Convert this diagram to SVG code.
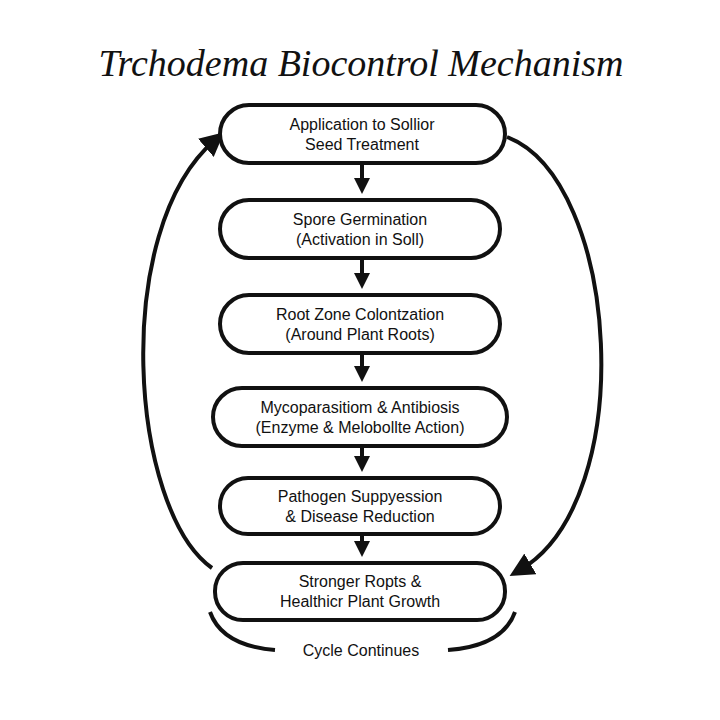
<svg xmlns="http://www.w3.org/2000/svg" width="720" height="720" viewBox="0 0 720 720">
<defs>
<style>
.n{fill:#fff;stroke:#111;stroke-width:4}
.t{font-family:"Liberation Sans",Arial,sans-serif;font-size:16px;fill:#111;text-anchor:middle}
.c{fill:none;stroke:#111;stroke-width:4}
</style>
<marker id="ah" markerWidth="6" markerHeight="6" refX="3" refY="3" orient="auto" markerUnits="strokeWidth"><path d="M0,0 L6,3 L0,6 z" fill="#111"/></marker>
<marker id="dn" markerWidth="4" markerHeight="4" refX="2" refY="2" orient="auto" markerUnits="strokeWidth"><path d="M0,0 L4,2 L0,4 z" fill="#111"/></marker>
</defs>
<rect width="720" height="720" fill="#fff"/>
<text x="361" y="76" font-family="Liberation Serif,serif" font-style="italic" font-size="38" text-anchor="middle" fill="#111">Trchodema Biocontrol Mechanism</text>
<g id="connectors">
<path class="c" d="M362,163 V186" marker-end="url(#dn)" stroke-width="6"/>
<path class="c" d="M362,258 V281" marker-end="url(#dn)" stroke-width="6"/>
<path class="c" d="M362,353 V374" marker-end="url(#dn)" stroke-width="6"/>
<path class="c" d="M362,446 V464" marker-end="url(#dn)" stroke-width="6"/>
<path class="c" d="M362,534 V549" marker-end="url(#dn)" stroke-width="6"/>
<path class="c" d="M212,568 C130,510 110,230 215,140" marker-end="url(#ah)"/>
<path class="c" d="M507,137 C620,180 640,500 520,570" marker-end="url(#ah)"/>
<path class="c" d="M210,612 C220,640 250,648 275,650"/>
<path class="c" d="M515,612 C505,640 475,648 448,650"/>
</g>
<g id="n1"><rect class="n" x="220" y="105" width="285" height="58" rx="29"/><text class="t" x="362" y="130">Application to Sollior</text><text class="t" x="362" y="150">Seed Treatment</text></g>
<g id="n2"><rect class="n" x="220" y="200" width="280" height="58" rx="29"/><text class="t" x="360" y="225">Spore Germination</text><text class="t" x="360" y="245">(Activation in Soll)</text></g>
<g id="n3"><rect class="n" x="220" y="295" width="280" height="58" rx="29"/><text class="t" x="360" y="320">Root Zone Colontzation</text><text class="t" x="360" y="340">(Around Plant Roots)</text></g>
<g id="n4"><rect class="n" x="213" y="388" width="294" height="58" rx="29"/><text class="t" x="360" y="413">Mycoparasitiom &amp; Antibiosis</text><text class="t" x="360" y="433">(Enzyme &amp; Melobollte Action)</text></g>
<g id="n5"><rect class="n" x="220" y="478" width="280" height="56" rx="28"/><text class="t" x="360" y="502">Pathogen Suppyession</text><text class="t" x="360" y="522">&amp; Disease Reduction</text></g>
<g id="n6"><rect class="n" x="215" y="563" width="290" height="57" rx="28"/><text class="t" x="360" y="587">Stronger Ropts &amp;</text><text class="t" x="360" y="607">Healthicr Plant Growth</text></g>
<text class="t" x="361" y="656" font-size="17">Cycle Continues</text>
</svg>
